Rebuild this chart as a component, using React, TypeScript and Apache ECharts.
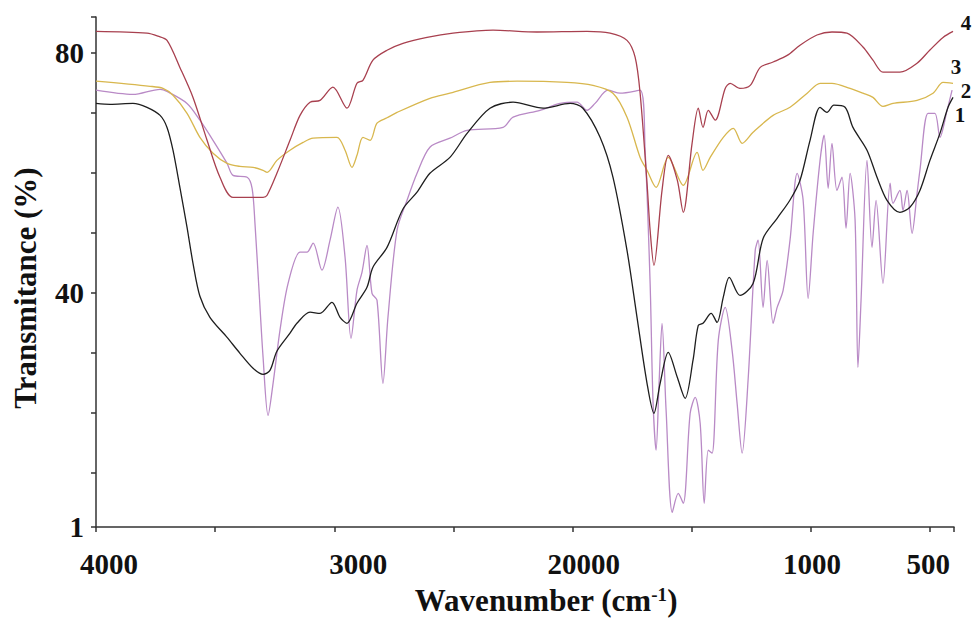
import React, { useEffect, useRef } from "react";
import * as echarts from "echarts";

// ---- axis ticks & labels ----
const xTickValues = [4000, 3500, 3000, 2500, 2000, 1500, 1000, 500, 400];
const xLabelValues = [4000, 3000, 2000, 1000, 500];
const xLabelTexts = ["4000", "3000", "20000", "1000", "500"];
const yTickValues = [1, 10, 20, 30, 40, 50, 60, 70, 80, 86];
const yLabelValues = [1, 40, 80];

// ---- series (wavenumber cm-1, transmittance %) ----
const curve1: [number, number][] = [
  [4000, 71.6], [3941, 71.45], [3845, 71.6], [3786, 70.95], [3731, 69.6], [3702, 67.6], [3677, 63.8],
  [3648, 57.6], [3618, 50.95], [3593, 44.95], [3564, 39.45], [3522, 35.95], [3450, 32.6], [3396, 29.95],
  [3341, 27.45], [3299, 26.45], [3270, 27.1], [3241, 30.3], [3186, 33.3], [3157, 34.95], [3102, 36.8],
  [3060, 36.6], [3010, 38.45], [2976, 35.95], [2947, 34.95], [2905, 38.3], [2863, 40.95], [2838, 44.3],
  [2779, 47.6], [2712, 54.0], [2653, 56.8], [2599, 59.95], [2515, 62.6], [2443, 66.6], [2347, 70.8],
  [2250, 71.8], [2124, 70.8], [2011, 71.6], [1957, 70.8], [1885, 65.95], [1831, 59.3], [1772, 47.1],
  [1730, 35.95], [1688, 24.95], [1659, 19.95], [1633, 24.95], [1599, 30.1], [1561, 25.95], [1528, 22.45],
  [1495, 28.8], [1473, 34.6], [1453, 34.95], [1419, 36.6], [1394, 35.1], [1368, 39.3], [1343, 42.6],
  [1298, 39.6], [1243, 41.6], [1201, 49.1], [1142, 52.45], [1088, 55.5], [1046, 58.8], [1004, 65.45],
  [962, 70.95], [933, 70.1], [904, 71.3], [857, 70.95], [824, 67.6], [765, 63.8], [723, 59.3],
  [681, 55.45], [627, 53.45], [585, 54.3], [543, 57.1], [501, 62.1], [459, 66.6], [425, 70.95], [404, 72.6],
];

const curve2: [number, number][] = [
  [4000, 73.8], [3845, 73.1], [3731, 73.95], [3702, 73.6], [3618, 71.6], [3564, 68.8], [3509, 65.45],
  [3450, 61.6], [3425, 59.6], [3366, 59.3], [3345, 57.45], [3333, 51.6], [3316, 40.45], [3299, 29.3],
  [3278, 19.6], [3257, 24.95], [3228, 33.8], [3194, 41.6], [3144, 46.8], [3115, 46.8], [3089, 48.3],
  [3052, 43.8], [3018, 48.8], [2985, 54.3], [2955, 45.95], [2930, 32.45], [2905, 40.45], [2884, 43.45],
  [2863, 47.95], [2842, 39.95], [2821, 38.8], [2796, 24.95], [2775, 35.95], [2737, 50.45], [2695, 55.45],
  [2653, 59.95], [2599, 64.3], [2515, 65.8], [2443, 67.1], [2292, 67.6], [2250, 69.3], [2137, 70.45],
  [2053, 71.6], [1982, 71.8], [1940, 70.45], [1906, 71.6], [1852, 73.8], [1801, 73.3], [1717, 73.8],
  [1696, 63.8], [1675, 41.6], [1663, 22.1], [1650, 13.8], [1637, 25.45], [1625, 34.95], [1608, 20.45],
  [1582, 3.45], [1557, 6.6], [1536, 4.95], [1507, 19.95], [1486, 22.6], [1465, 18.3], [1448, 4.95],
  [1431, 13.8], [1415, 13.3], [1389, 32.1], [1360, 37.6], [1331, 30.45], [1310, 21.6], [1289, 13.3],
  [1264, 25.45], [1234, 47.1], [1222, 48.8], [1201, 37.6], [1184, 45.45], [1159, 34.95], [1142, 37.6],
  [1117, 40.45], [1088, 48.8], [1058, 59.95], [1033, 55.45], [1012, 39.1], [991, 49.95], [962, 62.1],
  [945, 66.3], [928, 57.45], [912, 64.95], [891, 57.1], [870, 59.3], [853, 50.8], [836, 59.95],
  [815, 52.1], [803, 27.6], [790, 38.8], [765, 62.1], [744, 47.6], [727, 55.45], [698, 41.6],
  [668, 58.3], [656, 54.95], [627, 57.1], [614, 53.8], [597, 57.1], [576, 49.95], [555, 56.6],
  [543, 60.45], [509, 69.95], [480, 69.95], [459, 65.95], [429, 70.45], [408, 73.8],
];

const curve3: [number, number][] = [
  [4000, 75.3], [3773, 74.45], [3719, 74.1], [3677, 72.95], [3618, 69.95], [3564, 65.95], [3509, 63.3],
  [3450, 61.6], [3396, 61.1], [3341, 60.95], [3299, 60.45], [3282, 60.1], [3241, 62.1], [3186, 63.8],
  [3131, 65.1], [3089, 65.8], [2989, 65.95], [2955, 63.8], [2926, 60.95], [2905, 62.95], [2880, 65.95],
  [2850, 65.45], [2821, 68.3], [2779, 69.2], [2737, 70.1], [2599, 72.45], [2515, 73.3], [2347, 75.1],
  [2233, 75.3], [2024, 75.1], [1915, 74.6], [1831, 73.3], [1772, 69.3], [1717, 62.6], [1688, 60.45],
  [1650, 57.6], [1599, 62.6], [1536, 57.95], [1478, 63.45], [1453, 60.45], [1423, 62.6], [1368, 65.95],
  [1326, 67.45], [1289, 64.95], [1243, 66.8], [1159, 69.6], [1088, 70.95], [1016, 73.3], [962, 74.95],
  [912, 74.95], [836, 74.1], [782, 73.3], [740, 72.6], [698, 71.1], [656, 71.6], [555, 72.1],
  [488, 73.3], [446, 75.1], [404, 74.95],
];

const curve4: [number, number][] = [
  [4000, 83.6], [3786, 83.3], [3740, 82.8], [3702, 82.1], [3648, 77.6], [3593, 72.6], [3534, 65.45],
  [3480, 59.3], [3425, 55.95], [3299, 55.95], [3282, 56.3], [3241, 59.95], [3186, 65.45], [3144, 69.6],
  [3102, 71.8], [3060, 72.1], [3006, 74.3], [2947, 70.8], [2905, 74.95], [2880, 75.45], [2838, 78.8],
  [2779, 80.45], [2712, 81.6], [2611, 82.6], [2502, 83.3], [2334, 83.8], [2150, 83.5], [1940, 83.6],
  [1843, 83.3], [1772, 82.1], [1738, 79.3], [1717, 73.3], [1688, 58.3], [1675, 50.45], [1659, 44.6],
  [1625, 57.1], [1599, 62.95], [1561, 58.8], [1536, 53.45], [1499, 64.95], [1473, 70.8], [1453, 67.6],
  [1431, 70.45], [1402, 68.8], [1360, 74.1], [1339, 74.95], [1298, 74.1], [1255, 74.6], [1213, 77.6],
  [1159, 78.5], [1100, 79.6], [1046, 81.3], [975, 83.0], [912, 83.5], [849, 83.3], [782, 81.0],
  [740, 78.8], [698, 76.8], [627, 76.8], [555, 78.3], [501, 80.5], [446, 82.6], [404, 83.6],
];

const curveNames = ["1", "2", "3", "4"];
const curveColors = ["#1e1e1e", "#b98ac6", "#d8b74e", "#a8404f"];

const FONT = "'Liberation Serif', 'Times New Roman', serif";

export default function App() {
  const ref = useRef<HTMLDivElement>(null);

  useEffect(() => {
    if (!ref.current) return;
    const chart = echarts.init(ref.current, undefined, { renderer: "svg" });

    const xOffsets: Record<number, number[]> = {
      4000: [0, 0, 0, 26],
      3000: [0, 0, 0, 48],
      2000: [0, 0, 0, 22],
      1000: [0, 0, 0, 2],
      500: [0, 4, 0, 0],
    };
    const rich: Record<string, any> = {};
    xLabelValues.forEach((v) => {
      rich["l" + v] = {
        fontFamily: FONT,
        fontWeight: "bold",
        fontSize: 29,
        color: "#111",
        padding: xOffsets[v],
      };
    });

    const datasets = [curve2, curve3, curve4, curve1];
    const order = [1, 2, 3, 0];

    chart.setOption({
      animation: false,
      backgroundColor: "#ffffff",
      grid: {
        left: 96,
        right: 21,
        top: 17,
        bottom: 97,
        containLabel: false,
        outerBoundsMode: "none",
      },
      xAxis: {
        type: "value",
        min: 400,
        max: 4000,
        inverse: true,
        axisLine: { onZero: false, lineStyle: { color: "#333", width: 1.5 } },
        axisTick: {
          show: true,
          length: 5,
          customValues: xTickValues,
          lineStyle: { color: "#333", width: 1.5 },
        },
        axisLabel: {
          customValues: xLabelValues,
          margin: 22,
          formatter: (v: number) => {
            const i = xLabelValues.indexOf(v);
            return i >= 0 ? `{l${v}|${xLabelTexts[i]}}` : "";
          },
          rich,
          fontFamily: FONT,
          fontWeight: "bold",
          fontSize: 29,
          color: "#111",
        },
        splitLine: { show: false },
      },
      yAxis: {
        type: "value",
        min: 1,
        max: 86,
        axisLine: { show: true, onZero: false, lineStyle: { color: "#333", width: 1.5 } },
        axisTick: {
          show: true,
          length: 5,
          customValues: yTickValues,
          lineStyle: { color: "#333", width: 1.5 },
        },
        axisLabel: {
          customValues: yLabelValues,
          margin: 12,
          fontFamily: FONT,
          fontWeight: "bold",
          fontSize: 29,
          color: "#111",
        },
        splitLine: { show: false },
      },
      series: datasets.map((d, k) => ({
        name: curveNames[order[k]],
        type: "line",
        data: d,
        showSymbol: false,
        smooth: 0.3,
        lineStyle: { color: curveColors[order[k]], width: 1.3 },
        itemStyle: { color: curveColors[order[k]] },
      })),
      graphic: [
        {
          type: "text",
          x: 546,
          y: 600,
          style: {
            text: "{t|Wavenumber (cm}{s|-1}{t|)}",
            align: "center",
            verticalAlign: "middle",
            rich: {
              t: { fontFamily: FONT, fontWeight: "bold", fontSize: 31, fill: "#111" },
              s: {
                fontFamily: FONT,
                fontWeight: "bold",
                fontSize: 19,
                fill: "#111",
                verticalAlign: "top",
              },
            },
          },
        },
        {
          type: "text",
          x: 25,
          y: 288,
          rotation: Math.PI / 2,
          style: {
            text: "Transmitance (%)",
            align: "center",
            verticalAlign: "middle",
            fontFamily: FONT,
            fontWeight: "bold",
            fontSize: 31,
            fill: "#111",
          },
        },
        ...[
          { n: 3, x: 966, y: 23 },
          { n: 2, x: 956, y: 67 },
          { n: 1, x: 966, y: 91 },
          { n: 0, x: 960, y: 115 },
        ].map((p) => ({
          type: "text",
          x: p.x,
          y: p.y,
          style: {
            text: curveNames[p.n],
            align: "center",
            verticalAlign: "middle",
            fontFamily: FONT,
            fontWeight: "bold",
            fontSize: 21,
            fill: "#111",
          },
        })),
      ],
    });

    return () => chart.dispose();
  }, []);

  return (
    <div
      ref={ref}
      style={{ position: "fixed", left: 0, top: 0, width: 975, height: 624, background: "#fff" }}
    />
  );
}
